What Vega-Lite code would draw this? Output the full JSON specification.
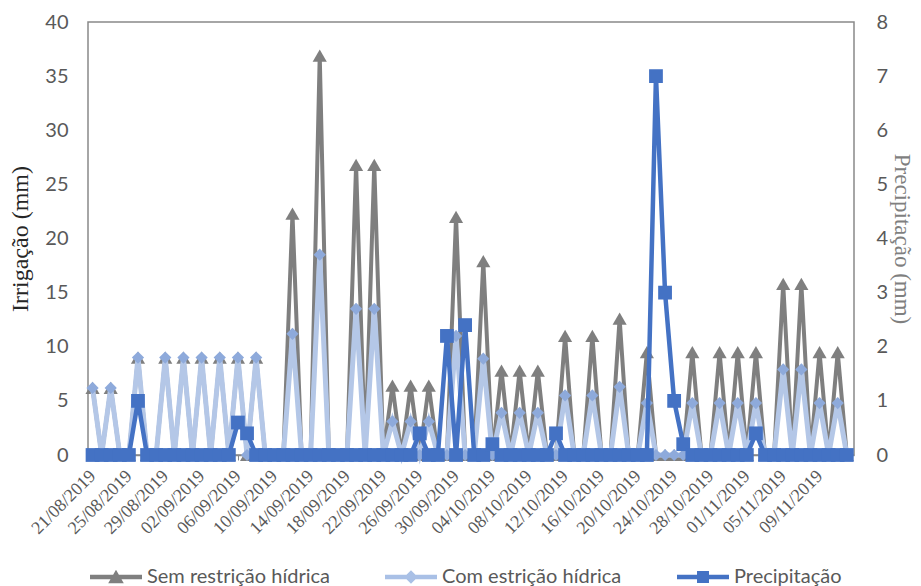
{
  "$schema": "https://vega.github.io/schema/vega-lite/v6.json",
  "width": 766,
  "height": 433,
  "autosize": {"type": "none"},
  "padding": {"left": 88, "top": 22, "right": 67, "bottom": 131},
  "background": "white",
  "config": {
    "view": {"stroke": "#898989", "strokeWidth": 1.5},
    "axis": {"grid": false}
  },
  "data": {
    "values": [
      {"d": "2019-08-21", "s": 6.2, "c": 6.2, "p": 0},
      {"d": "2019-08-22", "s": 0, "c": 0, "p": 0},
      {"d": "2019-08-23", "s": 6.2, "c": 6.2, "p": 0},
      {"d": "2019-08-24", "s": 0, "c": 0, "p": 0},
      {"d": "2019-08-25", "s": 0, "c": 0, "p": 0},
      {"d": "2019-08-26", "s": 9, "c": 9, "p": 1.0},
      {"d": "2019-08-27", "s": 0, "c": 0, "p": 0},
      {"d": "2019-08-28", "s": 0, "c": 0, "p": 0},
      {"d": "2019-08-29", "s": 9, "c": 9, "p": 0},
      {"d": "2019-08-30", "s": 0, "c": 0, "p": 0},
      {"d": "2019-08-31", "s": 9, "c": 9, "p": 0},
      {"d": "2019-09-01", "s": 0, "c": 0, "p": 0},
      {"d": "2019-09-02", "s": 9, "c": 9, "p": 0},
      {"d": "2019-09-03", "s": 0, "c": 0, "p": 0},
      {"d": "2019-09-04", "s": 9, "c": 9, "p": 0},
      {"d": "2019-09-05", "s": 0, "c": 0, "p": 0},
      {"d": "2019-09-06", "s": 9, "c": 9, "p": 0.6},
      {"d": "2019-09-07", "s": 0, "c": 0, "p": 0.4},
      {"d": "2019-09-08", "s": 9, "c": 9, "p": 0},
      {"d": "2019-09-09", "s": 0, "c": 0, "p": 0},
      {"d": "2019-09-10", "s": 0, "c": 0, "p": 0},
      {"d": "2019-09-11", "s": 0, "c": 0, "p": 0},
      {"d": "2019-09-12", "s": 22.3, "c": 11.2, "p": 0},
      {"d": "2019-09-13", "s": 0, "c": 0, "p": 0},
      {"d": "2019-09-14", "s": 0, "c": 0, "p": 0},
      {"d": "2019-09-15", "s": 36.9, "c": 18.5, "p": 0},
      {"d": "2019-09-16", "s": 0, "c": 0, "p": 0},
      {"d": "2019-09-17", "s": 0, "c": 0, "p": 0},
      {"d": "2019-09-18", "s": 0, "c": 0, "p": 0},
      {"d": "2019-09-19", "s": 26.8, "c": 13.5, "p": 0},
      {"d": "2019-09-20", "s": 0, "c": 0, "p": 0},
      {"d": "2019-09-21", "s": 26.8, "c": 13.5, "p": 0},
      {"d": "2019-09-22", "s": 0, "c": 0, "p": 0},
      {"d": "2019-09-23", "s": 6.4, "c": 3.1, "p": 0},
      {"d": "2019-09-24", "s": 0, "c": 0, "p": 0},
      {"d": "2019-09-25", "s": 6.4, "c": 3.1, "p": 0},
      {"d": "2019-09-26", "s": 0, "c": 0, "p": 0.4},
      {"d": "2019-09-27", "s": 6.4, "c": 3.1, "p": 0},
      {"d": "2019-09-28", "s": 0, "c": 0, "p": 0},
      {"d": "2019-09-29", "s": 0, "c": 0, "p": 2.2},
      {"d": "2019-09-30", "s": 22.0, "c": 11.0, "p": 0},
      {"d": "2019-10-01", "s": 0, "c": 0, "p": 2.4},
      {"d": "2019-10-02", "s": 0, "c": 0, "p": 0},
      {"d": "2019-10-03", "s": 17.9, "c": 8.9, "p": 0},
      {"d": "2019-10-04", "s": 0, "c": 0, "p": 0.2},
      {"d": "2019-10-05", "s": 7.8, "c": 3.9, "p": 0},
      {"d": "2019-10-06", "s": 0, "c": 0, "p": 0},
      {"d": "2019-10-07", "s": 7.8, "c": 3.9, "p": 0},
      {"d": "2019-10-08", "s": 0, "c": 0, "p": 0},
      {"d": "2019-10-09", "s": 7.8, "c": 3.9, "p": 0},
      {"d": "2019-10-10", "s": 0, "c": 0, "p": 0},
      {"d": "2019-10-11", "s": 0, "c": 0, "p": 0.4},
      {"d": "2019-10-12", "s": 11.0, "c": 5.5, "p": 0},
      {"d": "2019-10-13", "s": 0, "c": 0, "p": 0},
      {"d": "2019-10-14", "s": 0, "c": 0, "p": 0},
      {"d": "2019-10-15", "s": 11.0, "c": 5.5, "p": 0},
      {"d": "2019-10-16", "s": 0, "c": 0, "p": 0},
      {"d": "2019-10-17", "s": 0, "c": 0, "p": 0},
      {"d": "2019-10-18", "s": 12.6, "c": 6.3, "p": 0},
      {"d": "2019-10-19", "s": 0, "c": 0, "p": 0},
      {"d": "2019-10-20", "s": 0, "c": 0, "p": 0},
      {"d": "2019-10-21", "s": 9.5, "c": 4.8, "p": 0},
      {"d": "2019-10-22", "s": 0, "c": 0, "p": 7.0},
      {"d": "2019-10-23", "s": 0, "c": 0, "p": 3.0},
      {"d": "2019-10-24", "s": 0, "c": 0, "p": 1.0},
      {"d": "2019-10-25", "s": 0, "c": 0, "p": 0.2},
      {"d": "2019-10-26", "s": 9.5, "c": 4.8, "p": 0},
      {"d": "2019-10-27", "s": 0, "c": 0, "p": 0},
      {"d": "2019-10-28", "s": 0, "c": 0, "p": 0},
      {"d": "2019-10-29", "s": 9.5, "c": 4.8, "p": 0},
      {"d": "2019-10-30", "s": 0, "c": 0, "p": 0},
      {"d": "2019-10-31", "s": 9.5, "c": 4.8, "p": 0},
      {"d": "2019-11-01", "s": 0, "c": 0, "p": 0},
      {"d": "2019-11-02", "s": 9.5, "c": 4.8, "p": 0.4},
      {"d": "2019-11-03", "s": 0, "c": 0, "p": 0},
      {"d": "2019-11-04", "s": 0, "c": 0, "p": 0},
      {"d": "2019-11-05", "s": 15.8, "c": 7.9, "p": 0},
      {"d": "2019-11-06", "s": 0, "c": 0, "p": 0},
      {"d": "2019-11-07", "s": 15.8, "c": 7.9, "p": 0},
      {"d": "2019-11-08", "s": 0, "c": 0, "p": 0},
      {"d": "2019-11-09", "s": 9.5, "c": 4.8, "p": 0},
      {"d": "2019-11-10", "s": 0, "c": 0, "p": 0},
      {"d": "2019-11-11", "s": 9.5, "c": 4.8, "p": 0},
      {"d": "2019-11-12", "s": 0, "c": 0, "p": 0}
    ]
  },
  "encoding": {
    "x": {
      "field": "d",
      "type": "temporal",
      "scale": {
        "type": "utc",
        "domain": [
          {"year": 2019, "month": 8, "date": 20, "hours": 12, "utc": true},
          {"year": 2019, "month": 11, "date": 12, "hours": 19, "utc": true}
        ]
      },
      "axis": {
        "title": null,
        "format": "%d/%m/%Y",
        "values": [
          {"year": 2019, "month": 8, "date": 21, "utc": true},
          {"year": 2019, "month": 8, "date": 25, "utc": true},
          {"year": 2019, "month": 8, "date": 29, "utc": true},
          {"year": 2019, "month": 9, "date": 2, "utc": true},
          {"year": 2019, "month": 9, "date": 6, "utc": true},
          {"year": 2019, "month": 9, "date": 10, "utc": true},
          {"year": 2019, "month": 9, "date": 14, "utc": true},
          {"year": 2019, "month": 9, "date": 18, "utc": true},
          {"year": 2019, "month": 9, "date": 22, "utc": true},
          {"year": 2019, "month": 9, "date": 26, "utc": true},
          {"year": 2019, "month": 9, "date": 30, "utc": true},
          {"year": 2019, "month": 10, "date": 4, "utc": true},
          {"year": 2019, "month": 10, "date": 8, "utc": true},
          {"year": 2019, "month": 10, "date": 12, "utc": true},
          {"year": 2019, "month": 10, "date": 16, "utc": true},
          {"year": 2019, "month": 10, "date": 20, "utc": true},
          {"year": 2019, "month": 10, "date": 24, "utc": true},
          {"year": 2019, "month": 10, "date": 28, "utc": true},
          {"year": 2019, "month": 11, "date": 1, "utc": true},
          {"year": 2019, "month": 11, "date": 5, "utc": true},
          {"year": 2019, "month": 11, "date": 9, "utc": true}
        ],
        "labelAngle": -45,
        "labelAlign": "right",
        "labelBaseline": "middle",
        "labelFont": "Liberation Serif",
        "labelFontSize": 18,
        "labelColor": "#595959",
        "labelPadding": 13,
        "labelOverlap": false,
        "labelFlush": false,
        "labelBound": false,
        "tickSize": 5,
        "tickColor": "#898989",
        "domainColor": "#898989",
        "domainWidth": 1.5
      }
    }
  },
  "layer": [
    {
      "layer": [
        {
          "mark": {"type": "line", "color": "#7f7f7f", "strokeWidth": 4},
          "encoding": {
            "y": {"field": "s", "type": "quantitative", "scale": {"domain": [0, 40]},
              "axis": {"orient": "left", "title": "Irrigação (mm)", "values": [0, 5, 10, 15, 20, 25, 30, 35, 40],
                "labelFont": "Lato", "labelFontSize": 20, "labelColor": "#595959", "tickSize": 0, "labelPadding": 20,
                "domain": false, "titleFont": "Liberation Serif", "titleFontSize": 24, "titleFontWeight": "normal",
                "titleColor": "#262626", "titlePadding": 12}}
          }
        },
        {
          "mark": {"type": "point", "shape": "triangle-up", "filled": true, "color": "#7f7f7f", "size": 200, "opacity": 1},
          "encoding": {
            "y": {"field": "s", "type": "quantitative", "scale": {"domain": [0, 40]}}
          }
        },
        {
          "mark": {"type": "line", "color": "#b4c7e7", "strokeWidth": 5},
          "encoding": {
            "y": {"field": "c", "type": "quantitative", "scale": {"domain": [0, 40]}}
          }
        },
        {
          "mark": {"type": "point", "shape": "diamond", "filled": true, "color": "#8eaadb", "size": 150, "opacity": 1},
          "encoding": {
            "y": {"field": "c", "type": "quantitative", "scale": {"domain": [0, 40]}}
          }
        }
      ]
    },
    {
      "layer": [
        {
          "mark": {"type": "line", "color": "#4472c4", "strokeWidth": 4.5},
          "encoding": {
            "y": {"field": "p", "type": "quantitative", "scale": {"domain": [0, 8]},
              "axis": {"orient": "right", "title": "Precipitação (mm)", "values": [0, 1, 2, 3, 4, 5, 6, 7, 8],
                "labelFont": "Lato", "labelFontSize": 20, "labelColor": "#595959", "tickSize": 0, "labelPadding": 22,
                "domain": false, "titleFont": "Liberation Serif", "titleFontSize": 23, "titleFontWeight": "normal",
                "titleColor": "#7f7f7f", "titlePadding": 2}}
          }
        },
        {
          "mark": {"type": "point", "shape": "square", "filled": true, "color": "#4472c4", "size": 190, "opacity": 1},
          "encoding": {
            "y": {"field": "p", "type": "quantitative", "scale": {"domain": [0, 8]}}
          }
        }
      ]
    },
    {
      "transform": [{"filter": "false"}],
      "mark": {"type": "point", "filled": true, "opacity": 1},
      "encoding": {
        "color": {
          "field": "n", "type": "nominal",
          "scale": {"domain": ["Sem restrição hídrica", "Com estrição hídrica", "Precipitação"], "range": ["#7f7f7f", "#a9c0e6", "#4472c4"]},
          "legend": {
            "orient": "none", "legendX": 2, "legendY": 529, "direction": "horizontal", "title": null,
            "symbolSize": 2704, "symbolStrokeWidth": 0, "symbolOpacity": 1,
            "labelFont": "Lato", "labelFontSize": 20, "labelColor": "#595959", "labelOffset": 5, "labelLimit": 0,
            "columnPadding": 55, "padding": 0
          }
        },
        "shape": {
          "field": "n", "type": "nominal",
          "scale": {"domain": ["Sem restrição hídrica", "Com estrição hídrica", "Precipitação"],
            "range": [
              "M-1,-0.085H1V0.085H-1Z M0,-0.28L0.3,0.24H-0.3Z",
              "M-1,-0.085H1V0.085H-1Z M0,-0.26L0.26,0L0,0.26L-0.26,0Z",
              "M-1,-0.085H1V0.085H-1Z M-0.23,-0.23H0.23V0.23H-0.23Z"
            ]}
        }
      }
    }
  ],
  "resolve": {"scale": {"y": "independent"}}
}
